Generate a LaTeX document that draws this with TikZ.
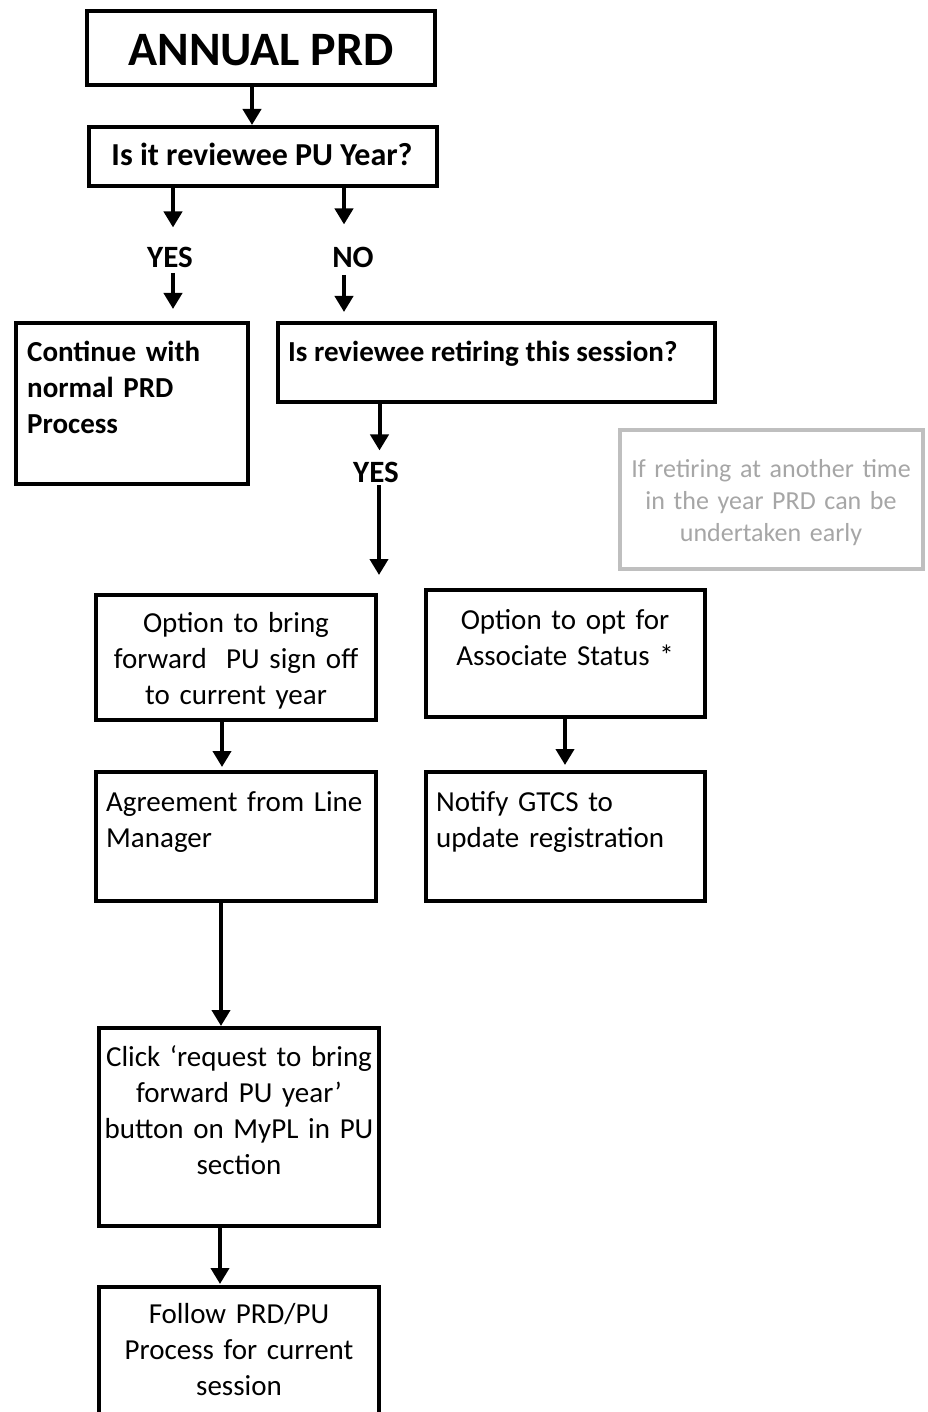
\documentclass[tikz,border=0pt]{standalone}
\usepackage{fontspec}
\setmainfont{Carlito}
\usetikzlibrary{arrows.meta}
\definecolor{lightgr}{HTML}{BFBFBF}
\definecolor{textgr}{HTML}{A6A6A6}
\tikzset{
  box/.style={draw, line width=4pt, inner sep=0pt, outer sep=0pt, anchor=north west},
  graybox/.style={draw=lightgr, line width=4pt, inner sep=0pt, outer sep=0pt, anchor=north west},
  arr/.style={line width=4pt, -{Triangle[width=18pt,length=16pt]}},
  tb/.style={inner sep=0pt, font=\fontsize{29}{36}\selectfont\bfseries},
  tr/.style={inner sep=0pt, font=\fontsize{29}{36}\selectfont},
  tl/.style={text width=400pt, align=left, anchor=base west},
  tc/.style={text width=400pt, align=center, anchor=base},
  tg/.style={inner sep=0pt, text=textgr, font=\fontsize{26}{32}\selectfont, text width=400pt, align=center, anchor=base},
  lab/.style={inner sep=0pt, font=\fontsize{31}{36}\selectfont\bfseries, anchor=base},
}
\begin{document}
\begin{tikzpicture}[x=1pt,y=-1pt]
\useasboundingbox (0,0) rectangle (927,1412);
\clip (0,0) rectangle (927,1412);
\fill[white] (0,0) rectangle (927,1412);

% boxes
\node[box, minimum width=348pt, minimum height=74pt] (b1) at (87,11) {};
\node[box, minimum width=348pt, minimum height=59pt] (b2) at (89,127) {};
\node[box, minimum width=232pt, minimum height=161pt] (b3) at (16,323) {};
\node[box, minimum width=437pt, minimum height=79pt] (b4) at (278,323) {};
\node[graybox, minimum width=303pt, minimum height=139pt] (b5) at (620,430) {};
\node[box, minimum width=280pt, minimum height=125pt] (b6) at (96,595) {};
\node[box, minimum width=279pt, minimum height=127pt] (b7) at (426,590) {};
\node[box, minimum width=280pt, minimum height=129pt] (b8) at (96,772) {};
\node[box, minimum width=279pt, minimum height=129pt] (b9) at (426,772) {};
\node[box, minimum width=280pt, minimum height=198pt] (b10) at (99,1028) {};
\node[box, minimum width=280pt, minimum height=160pt] (b11) at (99,1287) {};

% texts
\node[inner sep=0pt, font=\fontsize{48}{56}\selectfont\bfseries, anchor=base] (t1) at (261,66) {ANNUAL PRD};
\node[inner sep=0pt, font=\fontsize{32}{38}\selectfont\bfseries, anchor=base] (t2) at (262,166) {Is it reviewee PU Year?};
\node[lab] (yes1) at (170,268) {YES};
\node[lab] (no1) at (353,268) {NO};
\node[tb, tl] (t3) at (27,361) {Continue with\\normal PRD\\Process};
\node[tb, anchor=base west] (t4) at (288,361) {Is reviewee retiring this session?};
\node[lab] (yes2) at (376,482) {YES};
\node[tg] (t5) at (771,477) {If retiring at another time\\in the year PRD can be\\undertaken early};
\node[tr, tc] (t6) at (236,632) {Option to bring\\forward~ PU sign off\\to current year};
\node[tr, tc] (t7) at (565,629) {Option to opt for\\Associate Status *};
\node[tr, tl] (t8) at (106,811) {Agreement from Line\\Manager};
\node[tr, tl] (t9) at (436,811) {Notify GTCS to\\update registration};
\node[tr, tc] (t10) at (239,1066) {Click ‘request to bring\\forward PU year’\\button on MyPL in PU\\section};
\node[tr, tc] (t11) at (239,1323) {Follow PRD/PU\\Process for current\\session};

% connectors
\coordinate (s1) at ([xshift=-9pt]b1.south);
\draw[arr, shorten >=2pt] (s1) -- (s1 |- b2.north);
\coordinate (s2) at ([xshift=-90pt]b2.south);
\draw[arr] (s2) -- ([yshift=20pt]s2 |- yes1.north);
\coordinate (s3) at ([xshift=81pt]b2.south);
\draw[arr] (s3) -- ([yshift=23pt]s3 |- no1.north);
\coordinate (s4) at ([xshift=3pt,yshift=-5pt]yes1.base);
\draw[arr, shorten >=14pt] (s4) -- (s4 |- b3.north);
\coordinate (s5) at ([xshift=-9pt,yshift=-7pt]no1.base);
\draw[arr, shorten >=11pt] (s5) -- (s5 |- b4.north);
\coordinate (s6) at ([xshift=-117pt]b4.south);
\draw[arr] (s6) -- ([yshift=11pt]s6 |- yes2.north);
\coordinate (s7) at ([xshift=3pt,yshift=-3pt]yes2.base);
\draw[arr] (s7) -- ([yshift=-90pt]s7);
\coordinate (s8) at ([xshift=-14pt]b6.south);
\draw[arr, shorten >=5pt] (s8) -- (s8 |- b8.north);
\coordinate (s9) at ([xshift=-0.5pt]b7.south);
\draw[arr, shorten >=7pt] (s9) -- (s9 |- b9.north);
\coordinate (s10) at ([xshift=-15pt]b8.south);
\draw[arr, shorten >=2pt] (s10) -- (s10 |- b10.north);
\coordinate (s11) at ([xshift=-19pt]b10.south);
\draw[arr, shorten >=3pt] (s11) -- (s11 |- b11.north);
\end{tikzpicture}
\end{document}
